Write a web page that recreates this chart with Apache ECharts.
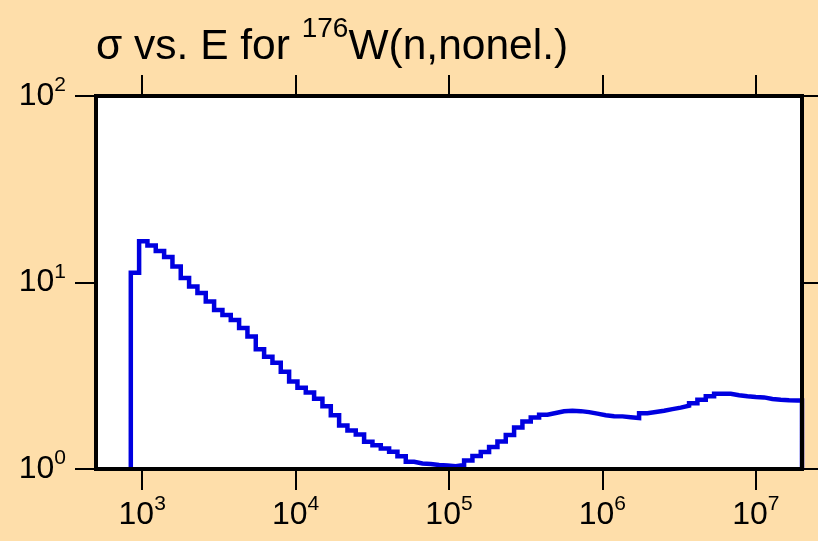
<!DOCTYPE html>
<html><head><meta charset="utf-8">
<script src="https://cdn.jsdelivr.net/npm/echarts@6/dist/echarts.min.js"></script>
<style>html,body{margin:0;padding:0;background:#FEDEAA;} #c{width:818px;height:541px;}</style>
</head><body><div id="c"></div>
<script>
// Bin boundaries (eV) of the histogram
const binEdges = [843, 955, 1082, 1226, 1390, 1575, 1784, 2022, 2292, 2597,
  2943, 3335, 3780, 4283, 4855, 5502, 6234, 7065, 8006, 9074,
  10283, 11653, 13205, 14962, 16960, 19217, 21777, 24677, 27964, 31700,
  35922, 40705, 46125, 52267, 59248, 67138, 76077, 86207, 97678, 110700,
  125450, 142150, 161080, 182520, 206900, 234450, 265660, 301030, 341110, 386660,
  438130, 496450, 562540, 637420, 722770, 818980, 928010, 1051500, 1191500, 1350600,
  1530400, 1734100, 1965000, 2226600, 2524100, 2860100, 3240900, 3672400, 4161300, 4718300,
  5346300, 6058000, 6864500, 7778300, 8818600, 9993100, 11324000, 12831000, 14539000, 16482000,
  18676000, 20000000];
// Cross section (b) in each bin
const sigma = [11.27, 16.63, 15.77, 14.74, 13.69, 12.18, 10.57, 9.52, 8.79, 7.91,
  7.13, 6.70, 6.30, 5.71, 5.14, 4.38, 4.00, 3.71, 3.32, 2.95,
  2.73, 2.57, 2.38, 2.17, 1.94, 1.71, 1.61, 1.53, 1.40, 1.34,
  1.287, 1.236, 1.171, 1.093, 1.070, 1.063, 1.050, 1.044, 1.035, 1.050,
  1.111, 1.174, 1.233, 1.311, 1.403, 1.520, 1.667, 1.795, 1.886, 1.956,
  1.998, 2.038, 2.055, 2.043, 2.018, 1.981, 1.944, 1.920, 1.915, 1.897,
  1.878, 1.993, 2.022, 2.055, 2.094, 2.133, 2.186, 2.254, 2.353, 2.457,
  2.533, 2.533, 2.488, 2.457, 2.433, 2.421, 2.376, 2.353, 2.339, 2.333,
  2.333];
const xTickValues = [1e3, 1e4, 1e5, 1e6, 1e7];
const yTickValues = [1, 10, 100];
const xRange = [500, 2e7];
const yRange = [1, 100];
const titleParts = ['σ vs. E for ', '176', 'W(n,nonel.)'];

const FONT = "'Liberation Sans', Arial, sans-serif";
const pts = [[binEdges[0], yRange[0]]];
for (let i = 0; i < sigma.length; i++) {
  pts.push([binEdges[i], sigma[i]]);
  pts.push([binEdges[i + 1], sigma[i]]);
}
pts.push([binEdges[binEdges.length - 1], yRange[0]]);

const powLabel = v => '{b|10}{s|' + Math.round(Math.log10(v)) + '}';
const labelRich = {
  b: {fontSize: 32, lineHeight: 42, fontFamily: FONT, color: '#000'},
  s: {fontSize: 21, lineHeight: 21, fontFamily: FONT, color: '#000', verticalAlign: 'top'}
};
const lineStyle = {color: '#000', width: 4, cap: 'square'};
const tickStyle = {color: '#000', width: 2};

function xAx(pos, showLabel) {
  return {
    type: 'log', position: pos, min: xRange[0], max: xRange[1], z: 5,
    axisLine: {show: true, lineStyle: lineStyle},
    axisTick: {show: true, length: 21, lineStyle: tickStyle, customValues: xTickValues},
    axisLabel: {show: showLabel, margin: 25, formatter: powLabel, rich: labelRich, customValues: xTickValues},
    splitLine: {show: false}, minorTick: {show: false}
  };
}
function yAx(pos, showLabel) {
  return {
    type: 'log', position: pos, min: yRange[0], max: yRange[1], z: 5,
    axisLine: {show: true, lineStyle: lineStyle},
    axisTick: {show: true, length: 21, lineStyle: tickStyle, customValues: yTickValues},
    axisLabel: {show: showLabel, margin: 30, formatter: powLabel, rich: labelRich, customValues: yTickValues},
    splitLine: {show: false}, minorTick: {show: false}
  };
}

const chart = echarts.init(document.getElementById('c'), null, {renderer: 'canvas'});
chart.setOption({
  backgroundColor: '#FEDEAA',
  animation: false,
  title: {
    text: '{m|' + titleParts[0] + '}{s|' + titleParts[1] + '}{m|' + titleParts[2] + '}',
    left: 96, top: 15, padding: 0,
    textStyle: {
      fontWeight: 'normal',
      rich: {
        m: {fontSize: 42.5, lineHeight: 64, fontWeight: 'normal', fontFamily: FONT, color: '#000'},
        s: {fontSize: 28, lineHeight: 28, fontWeight: 'normal', fontFamily: FONT, color: '#000', verticalAlign: 'top'}
      }
    }
  },
  grid: {left: 96, right: 16, top: 96, bottom: 72, show: true, backgroundColor: '#fff', borderWidth: 0},
  xAxis: [xAx('bottom', true), xAx('top', false)],
  yAxis: [yAx('left', true), yAx('right', false)],
  series: [{
    type: 'line', data: pts, xAxisIndex: 0, yAxisIndex: 0,
    showSymbol: false, symbol: 'none',
    lineStyle: {color: '#0000E0', width: 4.5, join: 'miter'}, z: 2
  }]
});
</script>
</body></html>
